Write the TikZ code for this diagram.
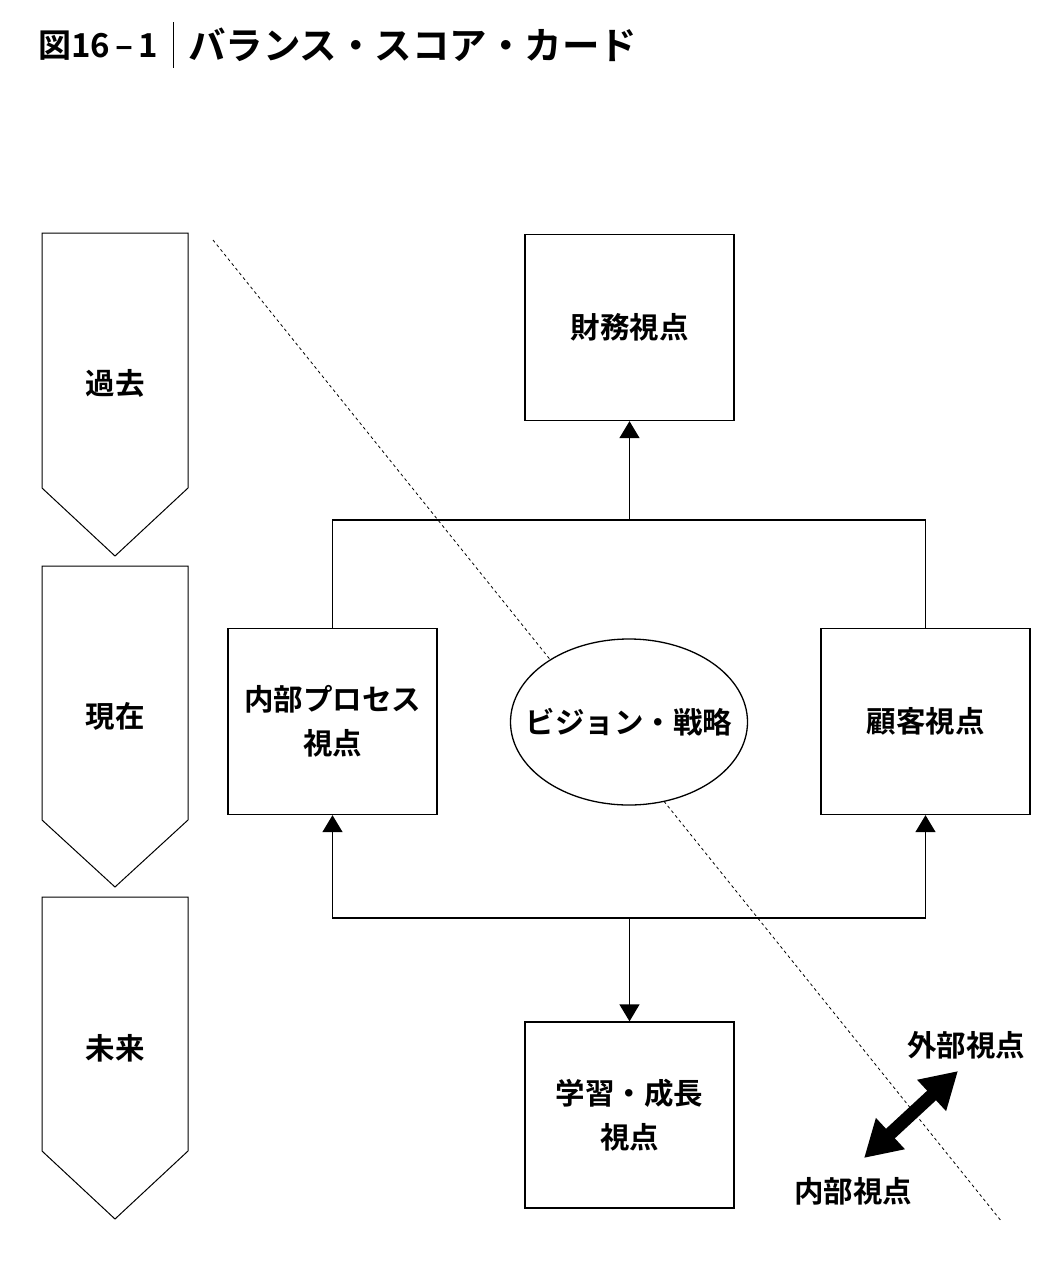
\documentclass[tikz,border=0pt]{standalone}
\usepackage{fontspec}
\newfontfamily\cjk{Noto Sans CJK JP}[BoldFont={* Bold}]
\usetikzlibrary{arrows.meta,shapes.geometric}
\tikzset{
  box/.style={draw, line width=1.3pt, fill=white, minimum width=209pt, minimum height=186pt, inner sep=0pt, align=center,
    font=\cjk\bfseries\fontsize{29.5}{44}\selectfont},
  lbl/.style={font=\cjk\bfseries\fontsize{29.5}{33}\selectfont, inner sep=0pt},
  chev/.style={draw, line width=1pt},
  conn/.style={line width=1.3pt},
  arr/.style={conn, -{Triangle[length=17pt,width=20pt]}},
  sep/.style={line width=0.8pt, dash pattern=on 3pt off 3pt},
  big/.style={line width=13pt, {Triangle[length=36pt,width=40pt]}-{Triangle[length=36pt,width=40pt]}}
}
\begin{document}
\begin{tikzpicture}[x=1pt,y=-1pt]
\useasboundingbox (0,0) rectangle (1060,1274);
% title
\node[anchor=west, inner sep=0pt, font=\cjk\bfseries\fontsize{33}{33}\selectfont] (fig) at (38,46) {図16\kern5pt–\kern5pt1};
\coordinate (bart) at (173,22);
\coordinate (barb) at (173,68);
\draw[line width=1pt] (bart) -- (barb);
\node[anchor=west, inner sep=0pt, font=\cjk\bfseries\fontsize{37.5}{37.5}\selectfont] (ttl) at (188,45) {バランス・スコア・カード};
% chevrons
\draw[chev] (42,233) -- (188,233) -- (188,488) -- (115,556) -- (42,488) -- cycle;
\draw[chev] (42,566) -- (188,566) -- (188,820) -- (115,887) -- (42,820) -- cycle;
\draw[chev] (42,897) -- (188,897) -- (188,1151) -- (115,1219) -- (42,1151) -- cycle;
\node[lbl] (past) at (115,383) {過去};
\node[lbl] (now) at (115,716) {現在};
\node[lbl] (fut) at (115,1048) {未来};
% separator
\coordinate (s1) at (213,240);
\coordinate (s2) at (1002,1222);
\draw[sep] (s1) -- (s2);
% boxes
\node[box] (fin) at (629.5,327.5) {財務視点};
\node[box] (proc) at (332.5,721.5) {内部プロセス\\視点};
\node[box] (cust) at (925.5,721.5) {顧客視点};
\node[box] (learn) at (629.5,1115) {学習・成長\\視点};
\node[draw, ellipse, line width=1.3pt, fill=white, minimum width=237pt, minimum height=166pt, inner sep=0pt] (vis) at (629,722) {};
\node[lbl] (vist) at (vis.center) {ビジョン・戦略};
% connectors
\coordinate (jt) at (629.5,520);
\coordinate (jb) at (629.5,918);
\draw[conn] (proc.north) |- (jt) -| (cust.north);
\draw[arr] (jt) -- (fin.south);
\draw[arr] (jb) -| (proc.south);
\draw[arr] (jb) -| (cust.south);
\draw[arr] (jb) -- (learn.north);
% inside/outside
\coordinate (ia) at (864,1158);
\coordinate (oa) at (958,1071);
\draw[big] (ia) -- (oa);
\node[lbl] (ext) at (966,1045) {外部視点};
\node[lbl] (int) at (853,1191) {内部視点};
\end{tikzpicture}
\end{document}
